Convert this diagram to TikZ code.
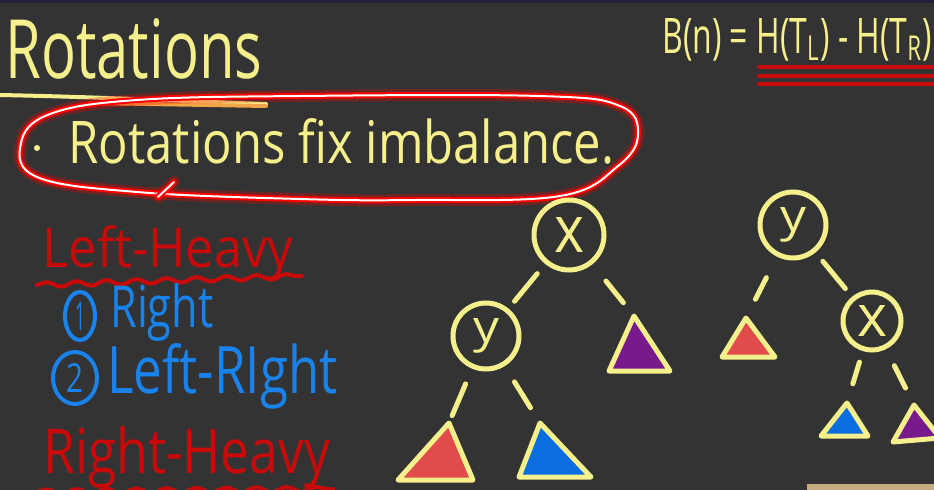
\documentclass[tikz,border=0pt]{standalone}
\usepackage{fontspec}
\setmainfont{Open Sans}
\usepackage{graphicx}
\usetikzlibrary{shapes.geometric,decorations.pathmorphing,positioning}
\newlength\pxu
\setlength\pxu{0.02cm}
\newcommand{\hw}[3]{\resizebox{#1\pxu}{#2\pxu}{#3}}
\definecolor{board}{RGB}{51,51,51}
\definecolor{topstrip}{RGB}{40,30,62}
\definecolor{chalk}{RGB}{245,240,140}
\definecolor{chalkorange}{RGB}{240,165,70}
\definecolor{heavyred}{RGB}{200,10,10}
\definecolor{caseblue}{RGB}{25,130,235}
\definecolor{trired}{RGB}{225,75,75}
\definecolor{triblue}{RGB}{10,110,225}
\definecolor{tripurple}{RGB}{120,25,140}
\definecolor{desk}{RGB}{200,170,130}

\begin{document}
\begin{tikzpicture}[x=1\pxu, y=-1\pxu,
    handtext/.style={inner sep=0, anchor=base west},
    treenode/.style={circle, draw=chalk, line width=5\pxu, inner sep=0, outer sep=0, text=chalk},
    branch/.style={draw=chalk, line width=5\pxu, line cap=round},
    subtree/.style={draw=chalk, line width=5\pxu, line join=round},
    numring/.style={ellipse, draw=caseblue, line width=4\pxu, inner sep=0, text=caseblue},
    neon/.style={draw=white, line width=2\pxu, line cap=round, line join=round,
      preaction={draw=red, line width=12\pxu, opacity=0.3, line cap=round},
      preaction={draw=red, line width=6\pxu, line cap=round}},
    wavy/.style={draw=heavyred, line width=4\pxu, line cap=round,
      decorate, decoration={snake, amplitude=2.5\pxu, segment length=30\pxu}}]

    % board
    \useasboundingbox (0,0) rectangle (934,490);
    \fill[board] (0,0) rectangle (934,490);
    \fill[topstrip] (0,0) rectangle (934,3);
    \fill[desk] (807,484) rectangle (934,490);

    % title and its underline
    \node[handtext, text=chalk] (title) at (5,78) {\hw{257}{60}{Rotations}};
    \draw[chalk, line width=4\pxu, line cap=round] (0,95) .. controls (100,97) and (180,101) .. (266,104);
    \draw[chalkorange, line width=4\pxu, line cap=round] (90,103) -- (266,106);

    % the circled point
    \node[circle, fill=chalk, inner sep=0, minimum size=6\pxu] (bullet) at (37,148) {};
    \node[handtext, text=chalk] (fix) at (68,163) {\hw{546}{45}{Rotations fix imbalance.}};
    \draw[neon] plot[smooth cycle, tension=0.65] coordinates {(618,166) (638,135) (620,106) (539,96)
      (300,96) (137,100) (50,114) (21,143) (37,177) (137,192) (300,199) (415,200) (560,196)};
    \draw[neon] (158,197) -- (174,182);

    % balance factor
    \node[handtext, text=chalk] (balance) at (662,53)
      {\hw{270}{35}{B(n) = H(T\textsubscript{L}) - H(T\textsubscript{R})}};
    \foreach \yy in {67,76,84}
      \draw[heavyred, line width=4\pxu, line cap=round] (759,\yy) -- (940,\yy);

    % cases
    \node[handtext, text=heavyred] (leftheavy) at (42,267) {\hw{251}{42}{Left-Heavy}};
    \draw[wavy] (37,285) -- (302,276);
    \node[numring, minimum width=30\pxu, minimum height=48\pxu] (one) at (80,316) {\hw{10}{28}{1}};
    \node[handtext, text=caseblue] (right) at (110,327) {\hw{103}{44}{Right}};
    \node[numring, minimum width=44\pxu, minimum height=52\pxu] (two) at (75,378) {\hw{17}{29}{2}};
    \node[handtext, text=caseblue] (leftright) at (107,393) {\hw{230}{50}{Left-RIght}};
    \node[handtext, text=heavyred] (rightheavy) at (43,473) {\hw{287}{47}{Right-Heavy}};
    \draw[wavy] (37,492) -- (333,489);

    % left-heavy tree
    \node[treenode, minimum size=70\pxu] (xroot) at (569,235) {\hw{30}{35}{x}};
    \node[treenode, minimum size=66\pxu] (yleft) at (486,336) {\hw{26}{24}{y}};
    \coordinate (purpA) at (634,316);
    \coordinate (redA) at (449,423);
    \coordinate (blueA) at (540,423);
    \filldraw[subtree, fill=tripurple] (purpA) -- ++(-25,55) -- ++(61,0) -- cycle;
    \filldraw[subtree, fill=trired] (redA) -- ++(-51,57) -- ++(75,0) -- cycle;
    \filldraw[subtree, fill=triblue] (blueA) -- ++(-21,54) -- ++(72,0) -- cycle;
    \draw[branch, shorten <=15\pxu, shorten >=12\pxu] (xroot) -- (yleft);
    \draw[branch, shorten <=24\pxu, shorten >=17\pxu] (xroot) -- (purpA);
    \draw[branch, shorten <=19\pxu, shorten >=8\pxu] (yleft) -- (redA);
    \draw[branch, shorten <=21\pxu, shorten >=18\pxu] (yleft) -- (blueA);

    % rotated tree
    \node[treenode, minimum size=66\pxu] (yroot) at (793,225) {\hw{26}{24}{y}};
    \node[treenode, minimum size=58\pxu] (xright) at (872,321) {\hw{30}{31}{x}};
    \coordinate (red2A) at (746,318);
    \coordinate (blue2A) at (847,403);
    \coordinate (purp2A) at (914,405);
    \filldraw[subtree, fill=trired] (red2A) -- ++(-24,39) -- ++(53,0) -- cycle;
    \filldraw[subtree, fill=triblue] (blue2A) -- ++(-26,33) -- ++(47,0) -- cycle;
    \filldraw[subtree, fill=tripurple] (purp2A) -- ++(-21,37) -- ++(47,-4) -- cycle;
    \draw[branch, shorten <=26\pxu, shorten >=21\pxu] (yroot) -- (red2A);
    \draw[branch, shorten <=14\pxu, shorten >=13\pxu] (yroot) -- (xright);
    \draw[branch, shorten <=14\pxu, shorten >=20\pxu] (xright) -- (blue2A);
    \draw[branch, shorten <=21\pxu, shorten >=19\pxu] (xright) -- (purp2A);
  \end{tikzpicture}
\end{document}
